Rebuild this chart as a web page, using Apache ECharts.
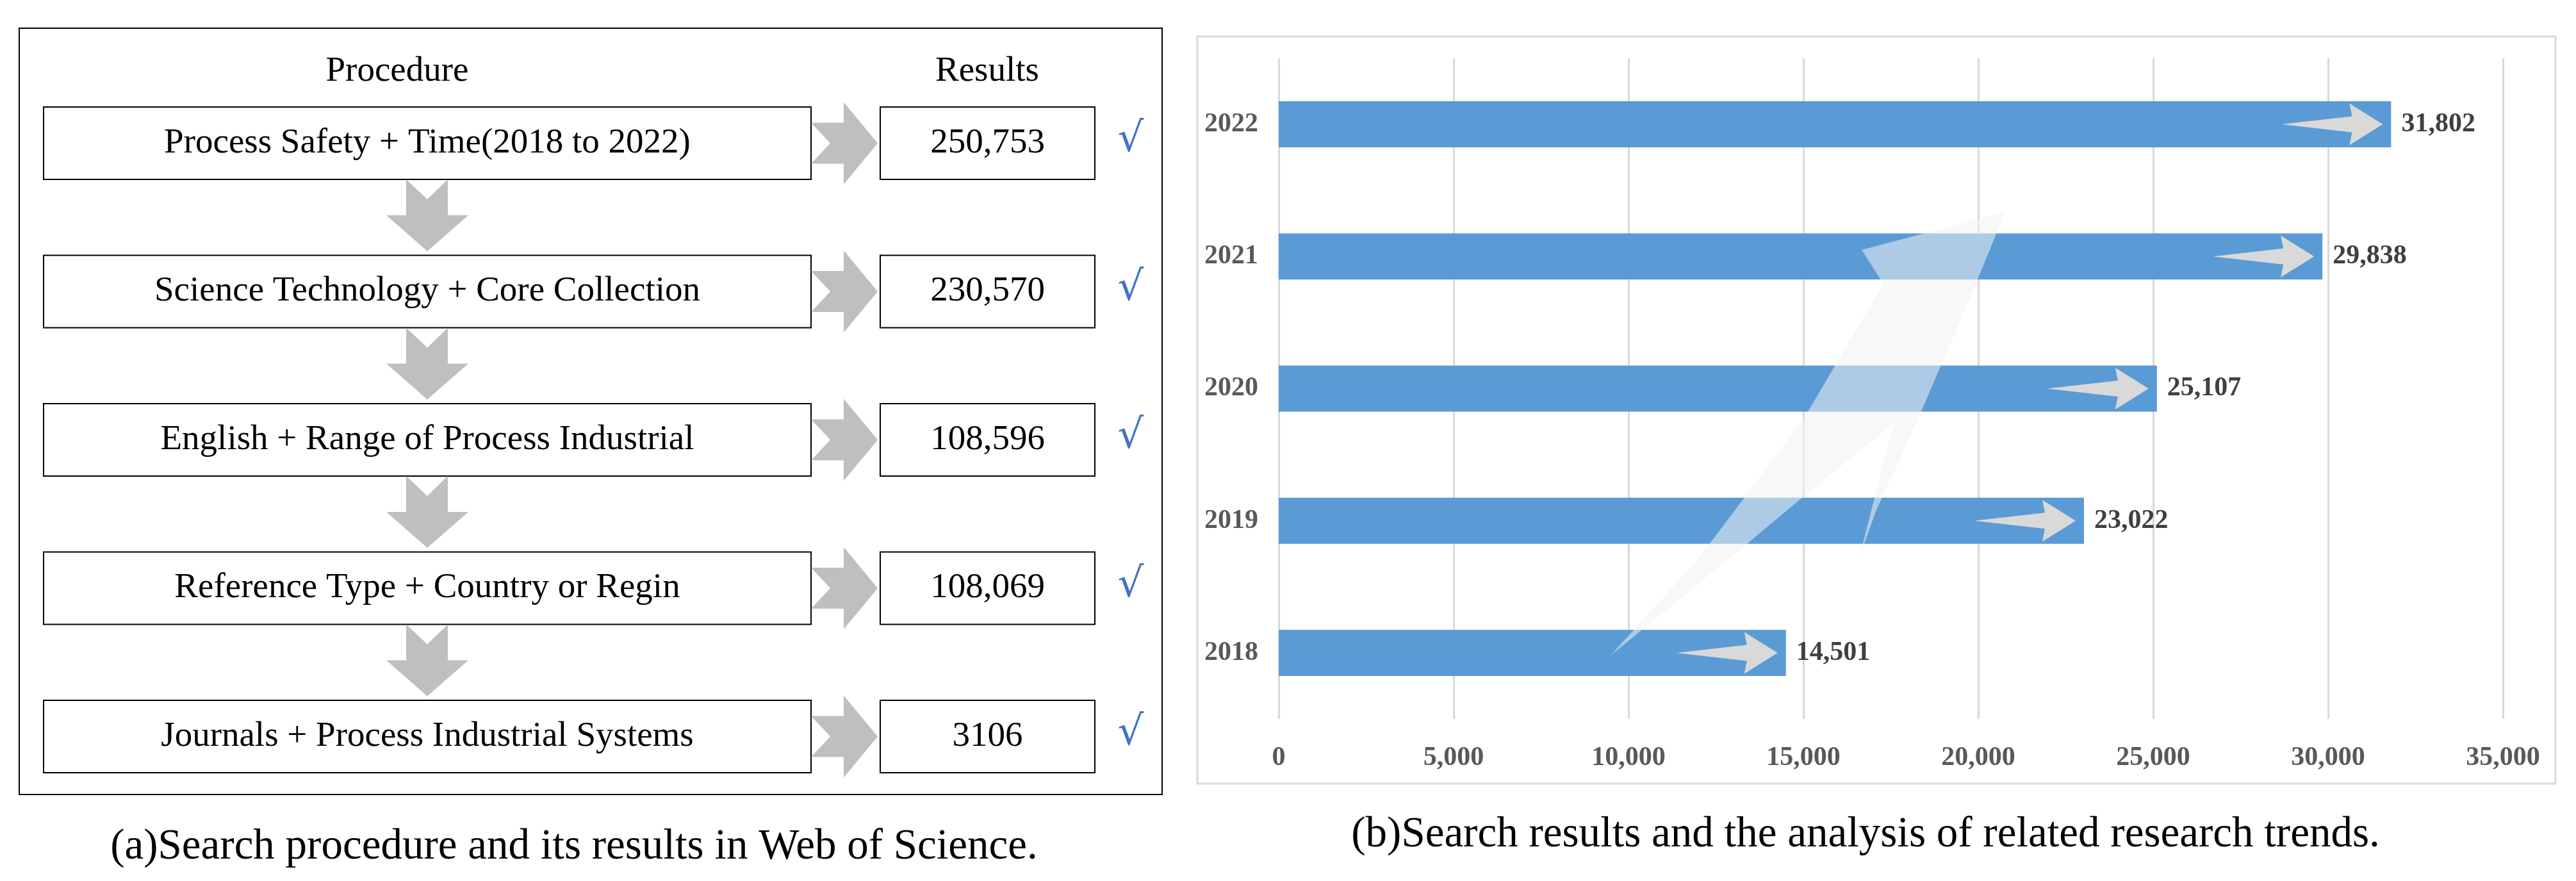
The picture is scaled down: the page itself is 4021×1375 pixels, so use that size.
<!DOCTYPE html>
<html>
<head>
<meta charset="utf-8">
<script src="https://cdn.jsdelivr.net/npm/echarts@6/dist/echarts.min.js"></script>
<style>
html,body{margin:0;padding:0;background:#fff;}
#main{width:4021px;height:1375px;}
</style>
</head>
<body>
<div id="main"></div>
<script>
// ---- data ----
const headerProcedure = 'Procedure';
const headerResults = 'Results';
const steps = [
  'Process Safety + Time(2018 to 2022)',
  'Science Technology + Core Collection',
  'English + Range of Process Industrial',
  'Reference Type + Country or Regin',
  'Journals + Process Industrial Systems'
];
const stepResults = ['250,753', '230,570', '108,596', '108,069', '3106'];
const checkMark = '\u221A';
const captionA = '(a)Search procedure and its results in Web of Science.';
const captionB = '(b)Search results and the analysis of related research trends.';
const years = ['2018', '2019', '2020', '2021', '2022'];
const counts = [14501, 23022, 25107, 29838, 31802];
const axisMin = 0, axisMax = 35000, axisStep = 5000;

// ---- helpers ----
const fmt = v => Number(v).toLocaleString('en-US');
const serif = 'Liberation Serif';

const chart = echarts.init(document.getElementById('main'), null, {renderer: 'canvas'});

function txt(x, y, text, size, color, family, weight) {
  return {type: 'text', x: x, y: y, z: 5, style: {
    text: text, fontSize: size, fontFamily: family || serif, fontWeight: weight || 'normal',
    fill: color || '#000', textAlign: 'center', textVerticalAlign: 'middle'}};
}

const graphics = [];
// left panel outer border
graphics.push({type: 'rect', shape: {x: 30, y: 44, width: 1784, height: 1196},
  style: {fill: 'none', stroke: '#000', lineWidth: 2}, z: 1});
// right panel outer border
graphics.push({type: 'rect', shape: {x: 1869, y: 57, width: 2120, height: 1166},
  style: {fill: 'none', stroke: '#d9d9d9', lineWidth: 3}, z: 1});
// headers
graphics.push(txt(620, 112, headerProcedure, 55));
graphics.push(txt(1541, 112, headerResults, 55));

const rowTop0 = 167, rowStep = 231.5, rowH = 113;
steps.forEach((s, i) => {
  const top = rowTop0 + i * rowStep;
  const cy = top + rowH / 2;
  // procedure box
  graphics.push({type: 'rect', shape: {x: 68, y: top, width: 1198, height: rowH},
    style: {fill: '#fff', stroke: '#000', lineWidth: 2}, z: 3});
  graphics.push(txt(667, cy, s, 55));
  // result box
  graphics.push({type: 'rect', shape: {x: 1374, y: top, width: 335, height: rowH},
    style: {fill: '#fff', stroke: '#000', lineWidth: 2}, z: 3});
  graphics.push(txt(1541.5, cy, stepResults[i], 55));
  // right arrow (notched)
  graphics.push({type: 'polygon', shape: {points: [
    [1266, cy - 32], [1317, cy - 32], [1317, cy - 64], [1370, cy], [1317, cy + 64],
    [1317, cy + 32], [1266, cy + 32], [1296, cy]]},
    style: {fill: '#bfbfbf'}, z: 4});
  // check mark
  graphics.push(txt(1765, cy - 4, checkMark, 64, '#4472c4', 'DejaVu Sans'));
  // down arrow
  if (i < steps.length - 1) {
    const b = top + rowH;
    graphics.push({type: 'polygon', shape: {points: [
      [634, b], [667, b + 31], [699, b], [699, b + 56], [731, b + 56], [667, b + 112],
      [603, b + 56], [634, b + 56]]},
      style: {fill: '#bfbfbf'}, z: 4});
  }
});

// captions
graphics.push(txt(896, 1322, captionA, 67));
graphics.push(txt(2912, 1303, captionB, 67));

// big decorative translucent trend arrow
graphics.push({type: 'polygon', shape: {points: [
  [2514, 1023], [2651, 872], [2814, 656], [2940, 443], [2906, 390], [3130, 331],
  [3084, 443], [2993, 656], [2928, 798], [2902, 871], [2956, 661], [2814, 776],
  [2699, 872]]},
  style: {fill: 'rgba(243,243,243,0.55)'}, z: 100});

const arrowPath = 'path://M0 32.5 L110 20 L106 0 L158 32.5 L106 65 L110 45 Z';

const option = {
  backgroundColor: '#fff',
  animation: false,
  grid: {left: 1996, top: 91, width: 1911, height: 1031, containLabel: false},
  xAxis: {
    type: 'value', min: axisMin, max: axisMax, interval: axisStep,
    axisLine: {show: false}, axisTick: {show: false},
    splitLine: {show: true, lineStyle: {color: '#d9d9d9', width: 3}},
    axisLabel: {formatter: v => fmt(v), fontFamily: serif, fontWeight: 'bold',
      fontSize: 42, color: '#595959', margin: 40}
  },
  yAxis: {
    type: 'category', data: years,
    axisLine: {show: false}, axisTick: {show: false},
    splitLine: {show: false},
    axisLabel: {fontFamily: serif, fontWeight: 'bold', fontSize: 42, color: '#595959', margin: 32}
  },
  series: [
    {
      type: 'bar', data: counts, barWidth: 72,
      itemStyle: {color: '#5b9bd5'},
      label: {show: true, position: 'right', distance: 16, formatter: p => fmt(p.value),
        fontFamily: serif, fontWeight: 'bold', fontSize: 42, color: '#404040'},
      z: 2
    },
    {
      type: 'scatter', data: counts, symbol: arrowPath, symbolSize: [158, 65],
      symbolOffset: [-92, 0], itemStyle: {color: '#d9d9d9', opacity: 1},
      silent: true, z: 3
    }
  ],
  graphic: graphics
};
chart.setOption(option);
</script>
</body>
</html>
